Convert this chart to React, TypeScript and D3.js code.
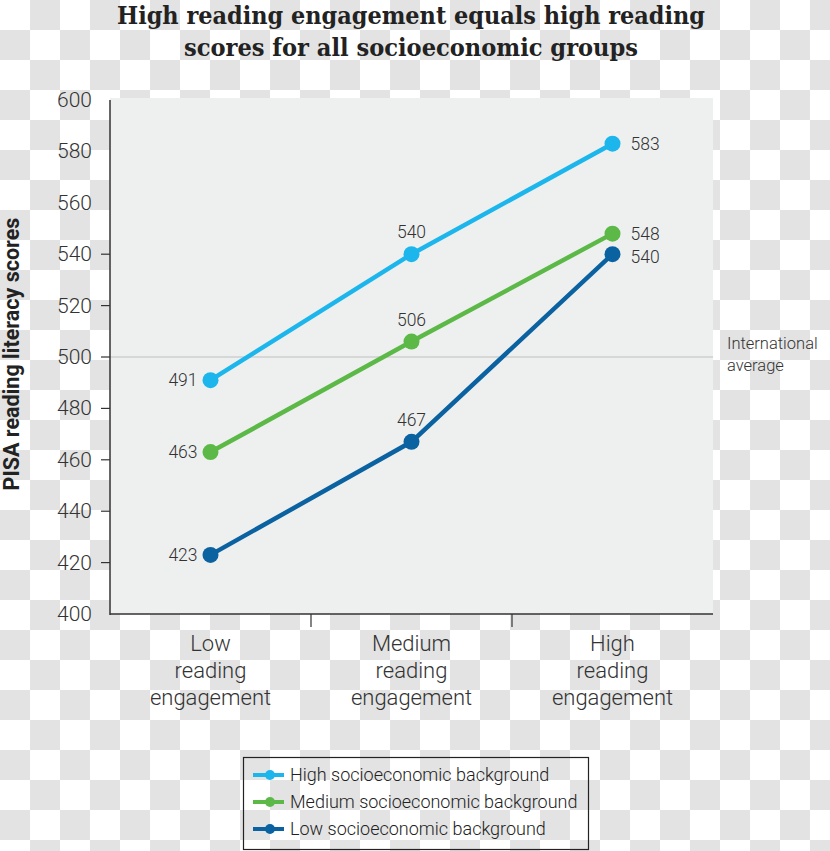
import React from "react";
import * as d3 from "d3";

const titleLines = ["High reading engagement equals high reading", "scores for all socioeconomic groups"];
const categories = ["Low", "Medium", "High"];
const categoryLabels = [
  ["Low", "reading", "engagement"],
  ["Medium", "reading", "engagement"],
  ["High", "reading", "engagement"],
];
const seriesNames = [
  "High socioeconomic background",
  "Medium socioeconomic background",
  "Low socioeconomic background",
];
const highValues = [491, 540, 583];
const mediumValues = [463, 506, 548];
const lowValues = [423, 467, 540];
const yTickLabels = [400, 420, 440, 460, 480, 500, 520, 540, 560, 580, 600];
const yTickMarks = [420, 440, 460, 480, 500, 520, 540];
const internationalAverage = 500;
const yAxisTitle = "PISA reading literacy scores";
const avgLabel = ["International", "average"];

const colors = ["#1cb6ec", "#5cb947", "#0b62a0"];
const W = 830;
const H = 851;
const left = 110, right = 713, top = 100, bottom = 614;

export default function App() {
  const x = d3.scalePoint<string>().domain(categories).range([left, right]).padding(0.5);
  const y = d3.scaleLinear().domain([400, 600]).range([bottom, top]);
  const step = x.step();
  const line = d3
    .line<number>()
    .x((_, i) => x(categories[i]) as number)
    .y((d) => y(d));
  const series = [highValues, mediumValues, lowValues];
  const font = "Roboto, 'Noto Sans', sans-serif";

  const labelPos = (si: number, i: number, v: number) => {
    const cx = x(categories[i]) as number;
    const cy = y(v);
    if (i === 0) return { x: cx - 13, y: cy + 6, anchor: "end" };
    if (i === 1) return { x: cx, y: cy - 16, anchor: "middle" };
    return { x: cx + 18, y: cy + (si === 2 ? 9 : 6), anchor: "start" };
  };

  return (
    <svg width={W} height={H} style={{ position: "absolute", left: 0, top: 0 }} fontFamily={font}>
      <defs>
        <pattern id="checker" width="60" height="60" patternUnits="userSpaceOnUse">
          <rect width="60" height="60" fill="#ffffff" />
          <rect x="30" y="0" width="30" height="30" fill="#e3e3e3" />
          <rect x="0" y="30" width="30" height="30" fill="#e3e3e3" />
        </pattern>
      </defs>
      <rect width={W} height={H} fill="url(#checker)" />

      {titleLines.map((t, i) => (
        <text
          key={i}
          x={411}
          y={24 + i * 32}
          textAnchor="middle"
          fontFamily="'DejaVu Serif', serif"
          fontWeight="bold"
          fontSize={24}
          fill="#222"
          textLength={i === 0 ? 588 : 454}
          lengthAdjust="spacingAndGlyphs"
        >
          {t}
        </text>
      ))}

      <rect x={left} y={top - 2} width={right - left} height={bottom - top + 2} fill="#eef0f0" />

      <line x1={left} x2={right} y1={y(internationalAverage)} y2={y(internationalAverage)} stroke="#bdbdbd" strokeWidth={1.2} />

      <line x1={left} x2={left} y1={top} y2={bottom + 1} stroke="#333" strokeWidth={1.5} />
      <line x1={left} x2={right} y1={bottom} y2={bottom} stroke="#333" strokeWidth={1.5} />
      {yTickMarks.map((v) => (
        <line key={v} x1={left - 9} x2={left} y1={y(v)} y2={y(v)} stroke="#333" strokeWidth={1.2} />
      ))}
      {yTickLabels.map((v) => (
        <text key={v} x={92} y={y(v) + 7} textAnchor="end" fontSize={21} fontWeight={300} fill="#333">
          {v}
        </text>
      ))}
      {categories.slice(1).map((c) => (
        <line
          key={c}
          x1={(x(c) as number) - step / 2}
          x2={(x(c) as number) - step / 2}
          y1={bottom}
          y2={bottom + 13}
          stroke="#333"
          strokeWidth={1.2}
        />
      ))}
      {categories.map((c, i) => (
        <text key={c} x={x(c) as number} textAnchor="middle" fontSize={22} fontWeight={300} fill="#333">
          {categoryLabels[i].map((l, j) => (
            <tspan key={j} x={x(c) as number} y={651 + j * 27}>
              {l}
            </tspan>
          ))}
        </text>
      ))}

      <text
        transform={`translate(19, ${(top + bottom) / 2 - 3}) rotate(-90)`}
        textAnchor="middle"
        fontSize={21.5}
        fontWeight="bold"
        fill="#222"
      >
        {yAxisTitle}
      </text>

      {avgLabel.map((t, i) => (
        <text key={i} x={727} y={349 + i * 22} fontSize={16.5} fontWeight={300} fill="#333">
          {t}
        </text>
      ))}

      {series.map((vals, si) => (
        <g key={si}>
          <path d={line(vals) || ""} fill="none" stroke={colors[si]} strokeWidth={4.5} />
          {vals.map((v, i) => (
            <circle key={i} cx={x(categories[i]) as number} cy={y(v)} r={8} fill={colors[si]} />
          ))}
          {vals.map((v, i) => {
            const p = labelPos(si, i, v);
            return (
              <text key={"l" + i} x={p.x} y={p.y} textAnchor={p.anchor as any} fontSize={17.5} fontWeight={300} fill="#333">
                {v}
              </text>
            );
          })}
        </g>
      ))}

      <rect x={243.5} y={757.5} width={345} height={92} fill="none" stroke="#222" strokeWidth={1.2} />
      {seriesNames.map((n, i) => {
        const ly = 775 + i * 27;
        return (
          <g key={n}>
            <line x1={253} x2={284} y1={ly} y2={ly} stroke={colors[i]} strokeWidth={4} />
            <circle cx={270} cy={ly} r={5} fill={colors[i]} />
            <text x={290} y={ly + 6} fontSize={18} fontWeight={300} fill="#222">
              {n}
            </text>
          </g>
        );
      })}
    </svg>
  );
}
